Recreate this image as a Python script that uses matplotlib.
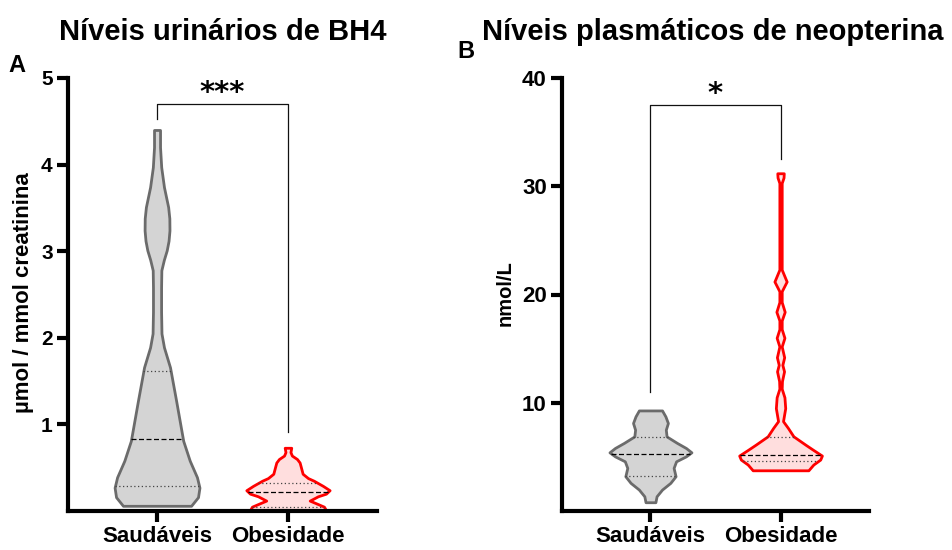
import numpy as np
import matplotlib
matplotlib.use("Agg")
import matplotlib.pyplot as plt

plt.rcParams["font.family"] = ["Liberation Sans", "DejaVu Sans"]
plt.rcParams["font.weight"] = "bold"

GROUPS = ["Saudáveis", "Obesidade"]

# violin outlines: value level -> half width (x units)
bh4_healthy_y = [4.40, 4.20, 3.97, 3.74, 3.51, 3.38, 3.24, 3.12, 3.01, 2.90, 2.78, 2.58, 2.30,
                 2.05, 1.89, 1.66, 1.28, 0.81, 0.58, 0.39, 0.27, 0.16, 0.06]
bh4_healthy_w = [0.023, 0.023, 0.032, 0.053, 0.085, 0.094, 0.095, 0.088, 0.074, 0.052, 0.033,
                 0.031, 0.031, 0.034, 0.053, 0.099, 0.145, 0.200, 0.250, 0.305, 0.324, 0.313,
                 0.260]
bh4_obese_y = [0.73, 0.68, 0.64, 0.60, 0.56, 0.51, 0.43, 0.38, 0.35, 0.29, 0.24,
               0.20, 0.17, 0.12, 0.08, 0.05, 0.01]
bh4_obese_w = [0.025, 0.019, 0.030, 0.069, 0.089, 0.098, 0.112, 0.153, 0.197, 0.267, 0.318,
               0.290, 0.229, 0.166, 0.229, 0.275, 0.290]

neo_healthy_y = [9.29, 8.74, 8.13, 7.51, 6.89, 6.29, 5.82, 5.42, 5.05, 4.59, 3.98,
                 3.21, 2.60, 1.98, 1.36, 0.81]
neo_healthy_w = [0.089, 0.115, 0.134, 0.118, 0.124, 0.204, 0.273, 0.315, 0.273, 0.197, 0.178,
                 0.193, 0.153, 0.089, 0.047, 0.038]
neo_obese_y = [31.2, 30.8, 30.3, 22.3, 21.2, 20.3, 19.3, 18.4, 17.6, 16.8, 16.0, 15.2,
               14.2, 13.5, 12.9, 12.0, 11.3, 10.5, 9.5, 8.3, 7.67, 6.9, 6.13, 5.67,
               5.12, 4.75, 4.29, 3.76]
neo_obese_w = [0.025, 0.023, 0.009, 0.009, 0.047, 0.009, 0.009, 0.032, 0.009, 0.009, 0.030, 0.009,
               0.028, 0.014, 0.027, 0.011, 0.009, 0.030, 0.036, 0.019, 0.057, 0.099, 0.191, 0.248,
               0.318, 0.305, 0.252, 0.214]

# median, lower and upper quartile
bh4_quart = [[0.83, 0.29, 1.62], [0.225, 0.05, 0.325]]
neo_quart = [[5.3, 3.21, 6.8], [5.2, 4.6, 6.8]]

# significance brackets: left end, right end, top, stars
bh4_bracket = [4.53, 0.91, 4.70, "***"]
neo_bracket = [11.0, 32.55, 37.55, "*"]

EDGE = ["#6b6b6b", "#ff0000"]
FILL = ["#d4d4d4", "#ffdede"]


def draw_violin(ax, pos, ys, ws, quart, k):
    ys = np.array(ys)
    ws = np.array(ws)
    ax.fill_betweenx(ys, pos - ws, pos + ws, facecolor=FILL[k], edgecolor=EDGE[k],
                     linewidth=2.0, joinstyle="round", zorder=2)
    order = np.argsort(ys)
    for i, q in enumerate(quart):
        hw = np.interp(q, ys[order], ws[order])
        ls = (0, (4, 2)) if i == 0 else (0, (1, 2))
        col = "black" if i == 0 else "#444444"
        ax.plot([pos - hw, pos + hw], [q, q], color=col, linestyle=ls,
                linewidth=0.9, zorder=3)


def draw_bracket(ax, br, star_y, fs):
    left, right, top, stars = br
    ax.plot([0, 0, 1, 1], [left, top, top, right], color="#111111", linewidth=0.9,
            clip_on=False, zorder=4)
    ax.text(0.5, star_y, stars, ha="center", va="baseline", fontsize=fs,
            family="DejaVu Sans", fontweight="bold", clip_on=False)


def style_axes(ax, ymax, yticks, fs):
    ax.set_xlim(-0.68, 1.68)
    ax.set_ylim(0, ymax)
    for s in ["top", "right"]:
        ax.spines[s].set_visible(False)
    for s in ["left", "bottom"]:
        ax.spines[s].set_linewidth(3)
    ax.set_xticks([0, 1])
    ax.set_xticklabels(GROUPS, fontsize=16, fontweight="bold")
    ax.set_yticks(yticks)
    ax.set_yticklabels([str(t) for t in yticks], fontsize=fs, fontweight="bold")
    ax.tick_params(axis="both", length=8, width=3, pad=3)


fig = plt.figure(figsize=(9.52, 5.5), dpi=100)

axA = fig.add_axes([68 / 952, 39 / 550, 309 / 952, 433 / 550])
draw_violin(axA, 0, bh4_healthy_y, bh4_healthy_w, bh4_quart[0], 0)
draw_violin(axA, 1, bh4_obese_y, bh4_obese_w, bh4_quart[1], 1)
style_axes(axA, 5, [1, 2, 3, 4, 5], 15)
draw_bracket(axA, bh4_bracket, 4.73, 21)

axB = fig.add_axes([562 / 952, 39 / 550, 307 / 952, 433 / 550])
draw_violin(axB, 0, neo_healthy_y, neo_healthy_w, neo_quart[0], 0)
draw_violin(axB, 1, neo_obese_y, neo_obese_w, neo_quart[1], 1)
style_axes(axB, 40, [10, 20, 30, 40], 16)
draw_bracket(axB, neo_bracket, 37.8, 21)

fig.text(24 / 952, 1 - 293 / 550, "µmol / mmol creatinina", rotation=90,
         ha="center", va="center", fontsize=16, fontweight="bold")
fig.text(505 / 952, 1 - 293 / 550, "nmol/L", rotation=90,
         ha="center", va="center", fontsize=14.5, fontweight="bold")

fig.text(223 / 952, 1 - 40 / 550, "Níveis urinários de BH4", ha="center",
         va="baseline", fontsize=21, fontweight="bold")
fig.text(713 / 952, 1 - 40 / 550, "Níveis plasmáticos de neopterina", ha="center",
         va="baseline", fontsize=21, fontweight="bold")
fig.text(8 / 952, 1 - 72 / 550, "A", ha="left", va="baseline", fontsize=17,
         fontweight="bold")
fig.text(457 / 952, 1 - 58 / 550, "B", ha="left", va="baseline", fontsize=17,
         fontweight="bold")

fig.savefig("out.png", dpi=100)
